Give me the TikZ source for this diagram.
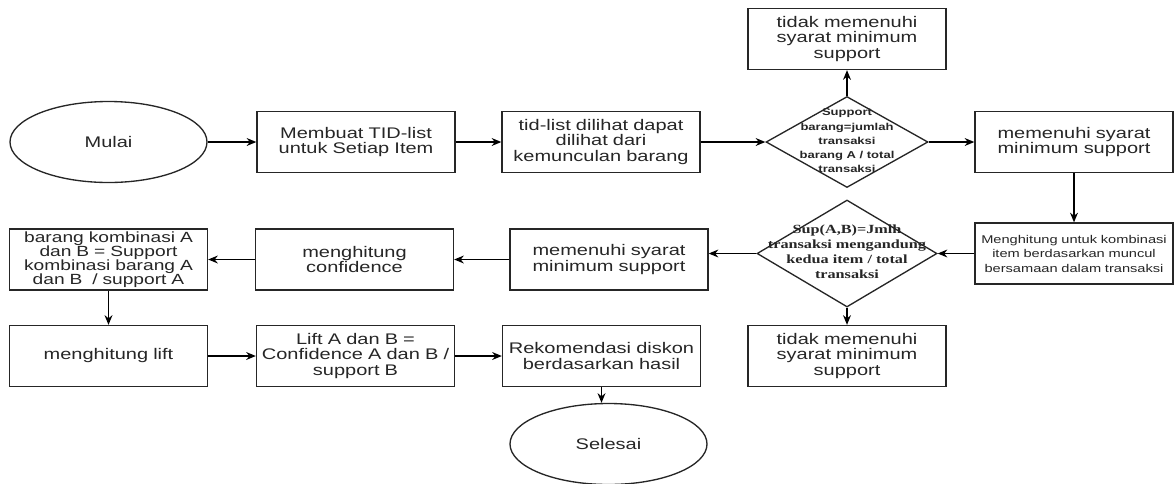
\documentclass[tikz,border=0pt]{standalone}
\usepackage{fontspec}
\setmainfont{Liberation Sans}[FakeStretch=1.3]
\newfontfamily\serifbold{Liberation Serif}[FakeStretch=1.3]
\usepackage{tikz}
\usetikzlibrary{arrows.meta}
\usetikzlibrary{shapes}
\tikzstyle{proses} = [rectangle, draw=black!85, text=black!85, text width=3.9cm,
    align=center, minimum width=3.96cm, minimum height=1.22cm, inner xsep=0.3pt,
    inner ysep=0.5pt, font=\fontsize{8.75}{9}\selectfont]
\tikzstyle{terminal} = [ellipse, draw=black!85, text=black!85, minimum width=3.94cm,
    minimum height=1.62cm, inner sep=0pt, font=\fontsize{8.75}{9}\selectfont]
\tikzstyle{keputusan} = [diamond, draw=black!85, text=black!85, inner sep=0pt]
% isi belah ketupat tidak ikut menentukan ukuran
\newcommand{\isiketupat}[1]{\smash{\makebox[0pt]{\raisebox{-0.4ex}{\begin{tabular}{@{}c@{}}#1\end{tabular}}}}}

\begin{document}
\begin{tikzpicture}[->,>={Stealth[length=5.5pt,width=4.5pt]},line width=0.76pt,
                    node distance=4.92cm]

  \useasboundingbox (0,0) rectangle (23.5,-9.66);

  \node[terminal]     (mulai) at (2.17,-2.84) {Mulai};
  \node[proses]       (tid) [right of=mulai,xshift=0.03cm] {Membuat TID-list\\untuk Setiap Item};
  \node[proses]       (lihat) [right of=tid,xshift=-0.02cm] {tid-list dilihat dapat\\dilihat dari\\kemunculan barang};
  \node[keputusan, minimum width=3.24cm, minimum height=1.82cm,
        font=\bfseries\fontsize{5.7}{8.1}\selectfont]
                      (cek1) [right of=lihat] {\isiketupat{Support\\barang=jumlah\\transaksi\\barang A / total\\transaksi}};
  \node[proses]       (gagal1) [above of=cek1,node distance=2.06cm] {tidak memenuhi\\syarat minimum\\support};
  \node[proses]       (lolos1) [right of=cek1,xshift=-0.38cm] {memenuhi syarat\\minimum support};
  \node[proses, font=\fontsize{6.4}{8.25}\selectfont]
                      (kombinasi) [below of=lolos1,node distance=2.23cm] {Menghitung untuk kombinasi\\item berdasarkan muncul\\bersamaan dalam transaksi};
  \node[keputusan, minimum width=3.6cm, minimum height=2.14cm,
        font=\serifbold\bfseries\fontsize{7.1}{8.5}\selectfont]
                      (cek2) [left of=kombinasi,xshift=0.38cm] {\isiketupat{Sup(A,B)=Jmlh\\transaksi mengandung\\kedua item / total\\transaksi}};
  \node[proses]       (gagal2) [below of=cek2,node distance=2.05cm] {tidak memenuhi\\syarat minimum\\support};
  \node[proses]       (lolos2) [left of=cek2,xshift=0.16cm,yshift=-0.12cm] {memenuhi syarat\\minimum support};
  \node[proses]       (conf) [left of=lolos2,xshift=-0.17cm] {menghitung\\confidence};
  \node[proses, inner ysep=0pt, font=\fontsize{8.4}{7.9}\selectfont]
                      (kombAB) [left of=conf] {barang kombinasi A\\dan B = Support\\kombinasi barang A\\dan B~ / support A};
  \node[proses]       (lift) [below of=kombAB,node distance=1.93cm] {menghitung lift};
  \node[proses]       (liftAB) [right of=lift,xshift=0.02cm] {Lift A dan B =\\Confidence A dan B /\\support B};
  \node[proses]       (rekom) [right of=liftAB] {Rekomendasi diskon\\berdasarkan hasil};
  \node[terminal]     (selesai) [below of=rekom,node distance=1.76cm,xshift=0.14cm] {Selesai};

  \path (mulai) edge (tid)
  (tid) edge (lihat)
  (lihat) edge (cek1)
  (cek1) edge (gagal1)
  (cek1) edge (lolos1)
  (lolos1) edge (kombinasi)
  (kombinasi) edge (cek2)
  (cek2) edge (gagal2)
  (cek2.west) edge (cek2.west -| lolos2.east)
  (lolos2) edge (conf)
  (conf) edge (kombAB)
  (kombAB) edge (lift)
  (lift) edge (liftAB)
  (liftAB) edge (rekom)
  (rekom.south) edge (rekom.south |- selesai.north);
\end{tikzpicture}
\end{document}
